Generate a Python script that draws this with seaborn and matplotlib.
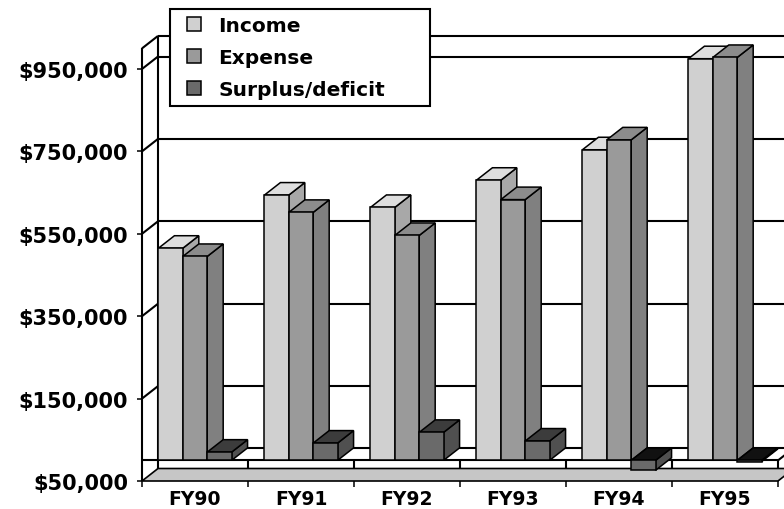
import numpy as np
import pandas as pd
import matplotlib
matplotlib.use("Agg")
import matplotlib.pyplot as plt
from matplotlib.patches import Polygon
from matplotlib.lines import Line2D
import seaborn as sns

# Fiscal-year budget figures
years = ["FY90", "FY91", "FY92", "FY93", "FY94", "FY95"]
income = [515000, 644000, 614000, 680000, 754000, 975000]
expense = [495000, 602000, 546000, 633000, 778000, 978000]
surplus = [20000, 42000, 68000, 47000, -24000, -3000]
series = ["Income", "Expense", "Surplus/deficit"]

# Value axis
tick_values = [-50000, 150000, 350000, 550000, 750000, 950000]
tick_labels = ["$50,000", "$150,000", "$350,000", "$550,000", "$750,000", "$950,000"]
y_min, y_max = -50000, 1000000

# front, top and side shades of each series
face_colors = {
    "Income": ("#d0d0d0", "#dedede", "#a8a8a8"),
    "Expense": ("#9a9a9a", "#8c8c8c", "#808080"),
    "Surplus/deficit": ("#6a6a6a", "#3c3c3c", "#505050"),
}

sns.set_style("white")
plt.rcParams["font.family"] = ["DejaVu Sans"]
plt.rcParams["font.weight"] = "bold"
plt.rcParams["text.color"] = "black"
plt.rcParams["xtick.color"] = "black"
plt.rcParams["ytick.color"] = "black"

W, H = 784, 510
fig = plt.figure(figsize=(W / 100, H / 100), dpi=100)
ax = fig.add_axes([142 / W, 28 / H, 636 / W, 432.6 / H])

df = pd.DataFrame({
    "year": years * len(series),
    "series": np.repeat(series, len(years)),
    "value": income + expense + surplus,
})

sns.barplot(data=df, x="year", y="value", hue="series", order=years,
            hue_order=series, palette=[face_colors[s][0] for s in series],
            saturation=1, width=0.69, errorbar=None, edgecolor="black",
            linewidth=1.1, legend=False, ax=ax)

x_left, x_right = -0.5, len(years) - 0.5
ax.set_xlim(x_left, x_right)
ax.set_ylim(y_min, y_max)
for sp in ax.spines.values():
    sp.set_visible(False)
ax.set_xlabel("")
ax.set_ylabel("")

# depth of the 3-D box, in data units (16 px right, 12.5 px up)
ddx = 16 / (ax.bbox.width / (x_right - x_left))
ddy = 12.5 / (ax.bbox.height / (y_max - y_min))

line_kw = dict(color="black", lw=1.5, clip_on=False, solid_capstyle="butt")

# back wall gridlines, side-wall connectors and wall edges
wall_levels = [0] + tick_values[1:] + [y_max]
for v in wall_levels:
    ax.plot([x_left + ddx, x_right + ddx], [v + ddy, v + ddy], zorder=1, **line_kw)
    if v != 0:
        ax.plot([x_left, x_left + ddx], [v, v + ddy], zorder=1, **line_kw)
ax.plot([x_left + ddx] * 2, [y_min + ddy, y_max + ddy], zorder=1, **line_kw)
ax.plot([x_left] * 2, [y_min, y_max], zorder=1.6, **line_kw)

# floor
floor = Polygon([(x_left, y_min), (x_right, y_min), (x_right + ddx, y_min + ddy),
                 (x_left + ddx, y_min + ddy)], closed=True, fc="#c6c6c6",
                ec="black", lw=1.2, zorder=1.2, clip_on=False)
ax.add_patch(floor)

# zero plane edge and category dividers
ax.plot([x_left, x_right], [0, 0], zorder=1.4, **line_kw)
ax.plot([x_right, x_right + ddx], [0, ddy], zorder=1.4, **line_kw)
for b in np.arange(x_left + 1, x_right + 0.01, 1):
    ax.plot([b, b], [0, y_min + ddy], zorder=1.4, **line_kw)

# 3-D faces of every bar, drawn left to right so each front hides its neighbour's side
bars = []
for name, cont in zip(series, ax.containers):
    for patch in cont.patches:
        bars.append((patch.get_x(), name, patch))
bars.sort(key=lambda t: t[0])
for i, (x0, name, patch) in enumerate(bars):
    z = 3 + i * 0.01
    w = patch.get_width()
    y0, h = patch.get_y(), patch.get_height()
    lo, hi = min(y0, y0 + h), max(y0, y0 + h)
    front_c, top_c, side_c = face_colors[name]
    if h < 0:
        top_c = "#111111"
    top = Polygon([(x0, hi), (x0 + w, hi), (x0 + w + ddx, hi + ddy), (x0 + ddx, hi + ddy)],
                  closed=True, fc=top_c, ec="black", lw=1.1, zorder=z, clip_on=False)
    side = Polygon([(x0 + w, lo), (x0 + w + ddx, lo + ddy), (x0 + w + ddx, hi + ddy), (x0 + w, hi)],
                   closed=True, fc=side_c, ec="black", lw=1.1, zorder=z, clip_on=False)
    ax.add_patch(side)
    ax.add_patch(top)
    patch.set_zorder(z + 0.005)
    patch.set_clip_on(False)

# axis ticks and labels
ax.set_yticks(tick_values, tick_labels)
ax.tick_params(axis="y", which="major", left=True, length=3.6, width=1.1,
               color="black", labelcolor="black", pad=6.5, labelsize=15)
ax.set_xticks(np.arange(x_left, x_right + 0.01, 1), minor=True)
ax.tick_params(axis="x", which="major", bottom=True, length=0, pad=6,
               labelcolor="black", labelsize=13.5)
ax.tick_params(axis="x", which="minor", bottom=True, length=4.3, width=1.1,
               color="black", direction="out")
for lab in ax.get_xticklabels() + ax.get_yticklabels():
    lab.set_fontweight("bold")

# legend
handles = [Line2D([], [], ls="none", marker="s", markersize=9.4,
                  markerfacecolor=face_colors[s][0], markeredgecolor="black",
                  markeredgewidth=1.1) for s in series]
leg = ax.legend(handles, series, loc="upper left",
                bbox_to_anchor=(170 / W, 390 / H, 260 / W, 110 / H),
                bbox_transform=fig.transFigure, mode="expand", borderaxespad=0,
                borderpad=0.36, labelspacing=0.63, handlelength=1.64,
                handletextpad=0.4, frameon=True, fancybox=False,
                prop={"size": 14.5, "weight": "bold"})
leg.get_frame().set_edgecolor("black")
leg.get_frame().set_linewidth(1.5)
leg.get_frame().set_alpha(1)
for t in leg.get_texts():
    t.set_color("black")
leg.set_zorder(10)

fig.savefig("out.png", dpi=100, facecolor="white")
